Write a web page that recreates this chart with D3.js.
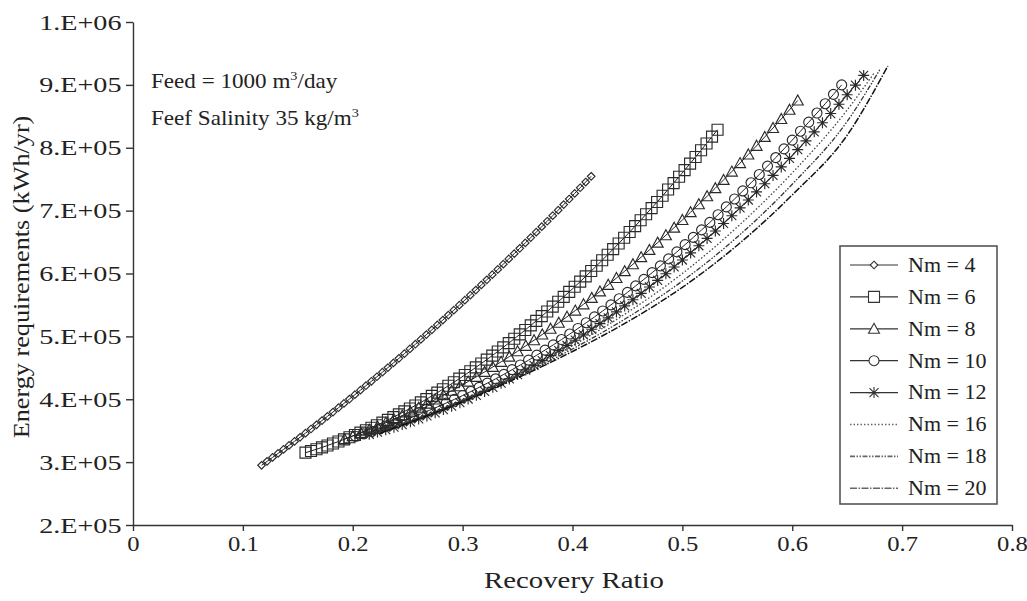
<!DOCTYPE html>
<html>
<head>
<meta charset="utf-8">
<script src="https://cdn.jsdelivr.net/npm/d3@7/dist/d3.min.js"></script>
<style>
  body { margin: 0; background: #fff; }
  svg text { font-family: "Liberation Serif", "Times New Roman", serif; fill: #222; }
</style>
</head>
<body>
<svg id="chart" width="1027" height="601"></svg>
<script>
// recovery ratio / energy requirement (kWh/yr)
const xTicks = [0, 0.1, 0.2, 0.3, 0.4, 0.5, 0.6, 0.7, 0.8];
const xTickLabels = ["0", "0.1", "0.2", "0.3", "0.4", "0.5", "0.6", "0.7", "0.8"];
const yTicks = [2e5, 3e5, 4e5, 5e5, 6e5, 7e5, 8e5, 9e5, 1e6];
const yTickLabels = ["2.E+05", "3.E+05", "4.E+05", "5.E+05", "6.E+05", "7.E+05", "8.E+05", "9.E+05", "1.E+06"];

const nm4 = [
  [0.117,2.950e5],[0.122,3.012e5],[0.127,3.075e5],[0.132,3.138e5],[0.137,3.202e5],[0.142,3.266e5],
  [0.147,3.330e5],[0.152,3.395e5],[0.157,3.461e5],[0.162,3.527e5],[0.167,3.594e5],[0.172,3.661e5],
  [0.177,3.728e5],[0.182,3.796e5],[0.187,3.865e5],[0.192,3.934e5],[0.197,4.003e5],[0.202,4.073e5],
  [0.207,4.144e5],[0.212,4.215e5],[0.217,4.286e5],[0.222,4.358e5],[0.227,4.430e5],[0.232,4.503e5],
  [0.237,4.577e5],[0.242,4.651e5],[0.247,4.725e5],[0.252,4.800e5],[0.257,4.875e5],[0.262,4.951e5],
  [0.267,5.028e5],[0.272,5.104e5],[0.277,5.182e5],[0.282,5.260e5],[0.287,5.338e5],[0.292,5.417e5],
  [0.297,5.496e5],[0.302,5.576e5],[0.307,5.656e5],[0.312,5.737e5],[0.317,5.818e5],[0.322,5.900e5],
  [0.327,5.982e5],[0.332,6.065e5],[0.337,6.148e5],[0.342,6.232e5],[0.347,6.316e5],[0.352,6.401e5],
  [0.357,6.486e5],[0.362,6.571e5],[0.367,6.658e5],[0.372,6.744e5],[0.377,6.831e5],[0.382,6.919e5],
  [0.387,7.007e5],[0.392,7.096e5],[0.397,7.185e5],[0.402,7.274e5],[0.407,7.364e5],[0.412,7.455e5],
  [0.417,7.546e5]
];

const nm6 = [
  [0.157,3.150e5],[0.162,3.177e5],[0.167,3.205e5],[0.172,3.234e5],[0.177,3.264e5],[0.182,3.296e5],
  [0.187,3.328e5],[0.192,3.362e5],[0.197,3.396e5],[0.202,3.432e5],[0.207,3.469e5],[0.212,3.507e5],
  [0.217,3.547e5],[0.222,3.587e5],[0.227,3.628e5],[0.232,3.671e5],[0.237,3.715e5],[0.242,3.760e5],
  [0.247,3.806e5],[0.252,3.853e5],[0.257,3.901e5],[0.262,3.950e5],[0.267,4.001e5],[0.272,4.053e5],
  [0.277,4.105e5],[0.282,4.159e5],[0.287,4.214e5],[0.292,4.270e5],[0.297,4.327e5],[0.302,4.386e5],
  [0.307,4.445e5],[0.312,4.506e5],[0.317,4.568e5],[0.322,4.631e5],[0.327,4.695e5],[0.332,4.760e5],
  [0.337,4.826e5],[0.342,4.893e5],[0.347,4.962e5],[0.352,5.031e5],[0.357,5.102e5],[0.362,5.174e5],
  [0.367,5.247e5],[0.372,5.321e5],[0.377,5.396e5],[0.382,5.473e5],[0.387,5.550e5],[0.392,5.629e5],
  [0.397,5.708e5],[0.402,5.789e5],[0.407,5.871e5],[0.412,5.954e5],[0.417,6.039e5],[0.422,6.124e5],
  [0.427,6.211e5],[0.432,6.298e5],[0.437,6.387e5],[0.442,6.477e5],[0.447,6.568e5],[0.452,6.660e5],
  [0.457,6.753e5],[0.462,6.847e5],[0.467,6.943e5],[0.472,7.040e5],[0.477,7.137e5],[0.482,7.236e5],
  [0.487,7.336e5],[0.492,7.437e5],[0.497,7.539e5],[0.502,7.643e5],[0.507,7.747e5],[0.512,7.853e5],
  [0.517,7.960e5],[0.522,8.068e5],[0.527,8.177e5],[0.532,8.287e5]
];

const nm8 = [
  [0.1925,3.366e5],[0.2000,3.414e5],[0.2075,3.464e5],[0.2150,3.516e5],[0.2225,3.569e5],[0.2300,3.625e5],
  [0.2375,3.682e5],[0.2450,3.741e5],[0.2525,3.802e5],[0.2600,3.865e5],[0.2675,3.930e5],[0.2750,3.996e5],
  [0.2825,4.065e5],[0.2900,4.135e5],[0.2975,4.207e5],[0.3050,4.281e5],[0.3125,4.357e5],[0.3200,4.435e5],
  [0.3275,4.514e5],[0.3350,4.595e5],[0.3425,4.678e5],[0.3500,4.763e5],[0.3575,4.850e5],[0.3650,4.939e5],
  [0.3725,5.030e5],[0.3800,5.122e5],[0.3875,5.216e5],[0.3950,5.312e5],[0.4025,5.410e5],[0.4100,5.510e5],
  [0.4175,5.612e5],[0.4250,5.715e5],[0.4325,5.820e5],[0.4400,5.928e5],[0.4475,6.037e5],[0.4550,6.147e5],
  [0.4625,6.260e5],[0.4700,6.375e5],[0.4775,6.491e5],[0.4850,6.609e5],[0.4925,6.729e5],[0.5000,6.851e5],
  [0.5075,6.975e5],[0.5150,7.101e5],[0.5225,7.228e5],[0.5300,7.357e5],[0.5375,7.488e5],[0.5450,7.621e5],
  [0.5525,7.756e5],[0.5600,7.893e5],[0.5675,8.031e5],[0.5750,8.172e5],[0.5825,8.314e5],[0.5900,8.458e5],
  [0.5975,8.604e5],[0.6050,8.752e5]
];

const nm10 = [
  [0.2025,3.412e5],[0.2100,3.450e5],[0.2175,3.490e5],[0.2250,3.532e5],[0.2325,3.576e5],[0.2400,3.622e5],
  [0.2475,3.670e5],[0.2550,3.720e5],[0.2625,3.772e5],[0.2700,3.825e5],[0.2775,3.881e5],[0.2850,3.939e5],
  [0.2925,3.998e5],[0.3000,4.060e5],[0.3075,4.123e5],[0.3150,4.189e5],[0.3225,4.256e5],[0.3300,4.325e5],
  [0.3375,4.396e5],[0.3450,4.470e5],[0.3525,4.545e5],[0.3600,4.622e5],[0.3675,4.701e5],[0.3750,4.782e5],
  [0.3825,4.865e5],[0.3900,4.950e5],[0.3975,5.037e5],[0.4050,5.126e5],[0.4125,5.217e5],[0.4200,5.309e5],
  [0.4275,5.404e5],[0.4350,5.501e5],[0.4425,5.599e5],[0.4500,5.700e5],[0.4575,5.803e5],[0.4650,5.907e5],
  [0.4725,6.013e5],[0.4800,6.122e5],[0.4875,6.232e5],[0.4950,6.344e5],[0.5025,6.459e5],[0.5100,6.575e5],
  [0.5175,6.693e5],[0.5250,6.813e5],[0.5325,6.935e5],[0.5400,7.059e5],[0.5475,7.185e5],[0.5550,7.313e5],
  [0.5625,7.443e5],[0.5700,7.575e5],[0.5775,7.708e5],[0.5850,7.844e5],[0.5925,7.982e5],[0.6000,8.122e5],
  [0.6075,8.263e5],[0.6150,8.407e5],[0.6225,8.552e5],[0.6300,8.700e5],[0.6375,8.849e5],[0.6450,9.000e5]
];

const nm12 = [
  [0.2150,3.443e5],[0.2225,3.478e5],[0.2300,3.516e5],[0.2375,3.556e5],[0.2450,3.597e5],[0.2525,3.641e5],
  [0.2600,3.687e5],[0.2675,3.735e5],[0.2750,3.784e5],[0.2825,3.836e5],[0.2900,3.890e5],[0.2975,3.946e5],
  [0.3050,4.004e5],[0.3125,4.063e5],[0.3200,4.125e5],[0.3275,4.189e5],[0.3350,4.255e5],[0.3425,4.323e5],
  [0.3500,4.393e5],[0.3575,4.465e5],[0.3650,4.539e5],[0.3725,4.615e5],[0.3800,4.693e5],[0.3875,4.773e5],
  [0.3950,4.855e5],[0.4025,4.939e5],[0.4100,5.025e5],[0.4175,5.113e5],[0.4250,5.203e5],[0.4325,5.295e5],
  [0.4400,5.389e5],[0.4475,5.485e5],[0.4550,5.583e5],[0.4625,5.684e5],[0.4700,5.786e5],[0.4775,5.890e5],
  [0.4850,5.996e5],[0.4925,6.104e5],[0.5000,6.215e5],[0.5075,6.327e5],[0.5150,6.441e5],[0.5225,6.558e5],
  [0.5300,6.676e5],[0.5375,6.796e5],[0.5450,6.919e5],[0.5525,7.043e5],[0.5600,7.169e5],[0.5675,7.298e5],
  [0.5750,7.428e5],[0.5825,7.560e5],[0.5900,7.695e5],[0.5975,7.831e5],[0.6050,7.970e5],[0.6125,8.110e5],
  [0.6200,8.253e5],[0.6275,8.397e5],[0.6350,8.544e5],[0.6425,8.692e5],[0.6500,8.843e5],[0.6575,8.995e5],
  [0.6650,9.150e5]
];

const nm16 = [
  [0.215,3.44e5],[0.25,3.64e5],[0.30,3.98e5],[0.35,4.38e5],[0.40,4.85e5],[0.45,5.38e5],
  [0.50,6.00e5],[0.55,6.74e5],[0.60,7.60e5],[0.65,8.60e5],[0.675,9.20e5]
];
const nm18 = [
  [0.220,3.45e5],[0.25,3.63e5],[0.30,3.97e5],[0.35,4.36e5],[0.40,4.80e5],[0.45,5.30e5],
  [0.50,5.88e5],[0.55,6.58e5],[0.60,7.42e5],[0.65,8.42e5],[0.680,9.25e5]
];
const nm20 = [
  [0.225,3.46e5],[0.25,3.62e5],[0.30,3.96e5],[0.35,4.34e5],[0.40,4.76e5],[0.45,5.23e5],
  [0.50,5.78e5],[0.55,6.45e5],[0.60,7.25e5],[0.65,8.20e5],[0.687,9.30e5]
];

const seriesNames = ["Nm = 4", "Nm = 6", "Nm = 8", "Nm = 10", "Nm = 12", "Nm = 16", "Nm = 18", "Nm = 20"];

const svg = d3.select("#chart");
const x = d3.scaleLinear().domain([0, 0.8]).range([133, 1012]);
const y = d3.scaleLinear().domain([2e5, 1e6]).range([525, 22]);

// marker paths
function markerPath(kind){
  if(kind === "diamond") return "M0,-3.8L3.8,0L0,3.8L-3.8,0Z";
  if(kind === "square") return "M-5.5,-5.5H5.5V5.5H-5.5Z";
  if(kind === "triangle") return "M0,-5.5L5.5,4.5H-5.5Z";
  if(kind === "circle") return "M5,0A5,5 0 1,1 -5,0A5,5 0 1,1 5,0Z";
  if(kind === "star") return "M0,-5.5V5.5M-4.5,-4.5L4.5,4.5M-4.5,4.5L4.5,-4.5M-5.5,0H5.5";
  return "";
}

const series = [
  {name: seriesNames[0], data: nm4, marker: "diamond", dash: null, color: "#222", width: 1},
  {name: seriesNames[1], data: nm6, marker: "square", dash: null, color: "#222", width: 1},
  {name: seriesNames[2], data: nm8, marker: "triangle", dash: null, color: "#222", width: 1},
  {name: seriesNames[3], data: nm10, marker: "circle", dash: null, color: "#222", width: 1},
  {name: seriesNames[4], data: nm12, marker: "star", dash: null, color: "#222", width: 1},
  {name: seriesNames[5], data: nm16, marker: null, dash: "1.5,2", color: "#444", width: 1.3},
  {name: seriesNames[6], data: nm18, marker: null, dash: "5,1.5,1.5,1.5,1.5,1.5", color: "#333", width: 1.3},
  {name: seriesNames[7], data: nm20, marker: null, dash: "7,1.5,1.5,1.5", color: "#111", width: 1.5}
];

// axes
var xAxis = svg.append("g")
  .attr("transform", "translate(0," + y(2e5) + ")")
  .call(d3.axisBottom(x).tickValues(xTicks).tickFormat((d, i) => xTickLabels[i]).tickSize(6).tickPadding(4).tickSizeOuter(0));
var yAxis = svg.append("g")
  .attr("transform", "translate(" + x(0) + ",0)")
  .call(d3.axisLeft(y).tickValues(yTicks).tickFormat((d, i) => yTickLabels[i]).tickSize(7).tickPadding(2).tickSizeOuter(0));

svg.selectAll(".domain, .tick line").attr("stroke", "#333").attr("stroke-width", 1.4);
xAxis.selectAll("text").attr("font-size", 22).attr("fill", "#222")
  .attr("transform", "scale(1.12,1)");
yAxis.selectAll("text").attr("font-size", 22).attr("fill", "#222")
  .attr("transform", "scale(1.28,1)");

svg.append("text")
  .attr("transform", "translate(574,588) scale(1.2,1)")
  .attr("text-anchor", "middle").attr("font-size", 24)
  .text("Recovery Ratio");

svg.append("text")
  .attr("transform", "translate(29,277) rotate(-90) scale(1.14,1)")
  .attr("text-anchor", "middle").attr("font-size", 23)
  .text("Energy requirements (kWh/yr)");

// annotation
var note1 = svg.append("text").attr("transform", "translate(151,88) scale(1.1,1)").attr("font-size", 21);
note1.append("tspan").text("Feed = 1000 m");
note1.append("tspan").attr("font-size", 13).attr("dy", -8).text("3");
note1.append("tspan").attr("dy", 8).text("/day");
var note2 = svg.append("text").attr("transform", "translate(151,125) scale(1.1,1)").attr("font-size", 21);
note2.append("tspan").text("Feef Salinity 35 kg/m");
note2.append("tspan").attr("font-size", 13).attr("dy", -8).text("3");

// curves
var line = d3.line().x(d => x(d[0])).y(d => y(d[1]));
var plot = svg.append("g");
series.forEach(function(s){
  plot.append("path")
    .datum(s.data)
    .attr("d", line.curve(s.marker ? d3.curveLinear : d3.curveMonotoneX))
    .attr("fill", "none")
    .attr("stroke", s.color)
    .attr("stroke-width", s.width)
    .attr("stroke-dasharray", s.dash);
  if(s.marker){
    plot.append("g").selectAll("path")
      .data(s.data)
      .enter().append("path")
      .attr("transform", d => "translate(" + x(d[0]) + "," + y(d[1]) + ")")
      .attr("d", markerPath(s.marker))
      .attr("fill", "none")
      .attr("stroke", "#2a2a2a")
      .attr("stroke-width", 1.15);
  }
});

// legend
var legend = svg.append("g");
legend.append("rect")
  .attr("x", 840).attr("y", 246).attr("width", 157).attr("height", 258)
  .attr("fill", "#fff").attr("stroke", "#555").attr("stroke-width", 1.6);
series.forEach(function(s, i){
  var ly = 265 + i * 31.9;
  legend.append("line")
    .attr("x1", 850).attr("x2", 898).attr("y1", ly).attr("y2", ly)
    .attr("stroke", s.marker ? "#333" : "#666")
    .attr("stroke-width", s.marker ? 1.2 : 1.6)
    .attr("stroke-dasharray", s.dash);
  if(s.marker){
    legend.append("path")
      .attr("transform", "translate(874," + ly + ")")
      .attr("d", markerPath(s.marker))
      .attr("fill", "#fff").attr("stroke", "#333").attr("stroke-width", 1.1);
  }
  legend.append("text")
    .attr("transform", "translate(908," + ly + ") scale(1.1,1)")
    .attr("dy", "0.34em")
    .attr("font-size", 20)
    .text(s.name);
});
</script>
</body>
</html>
